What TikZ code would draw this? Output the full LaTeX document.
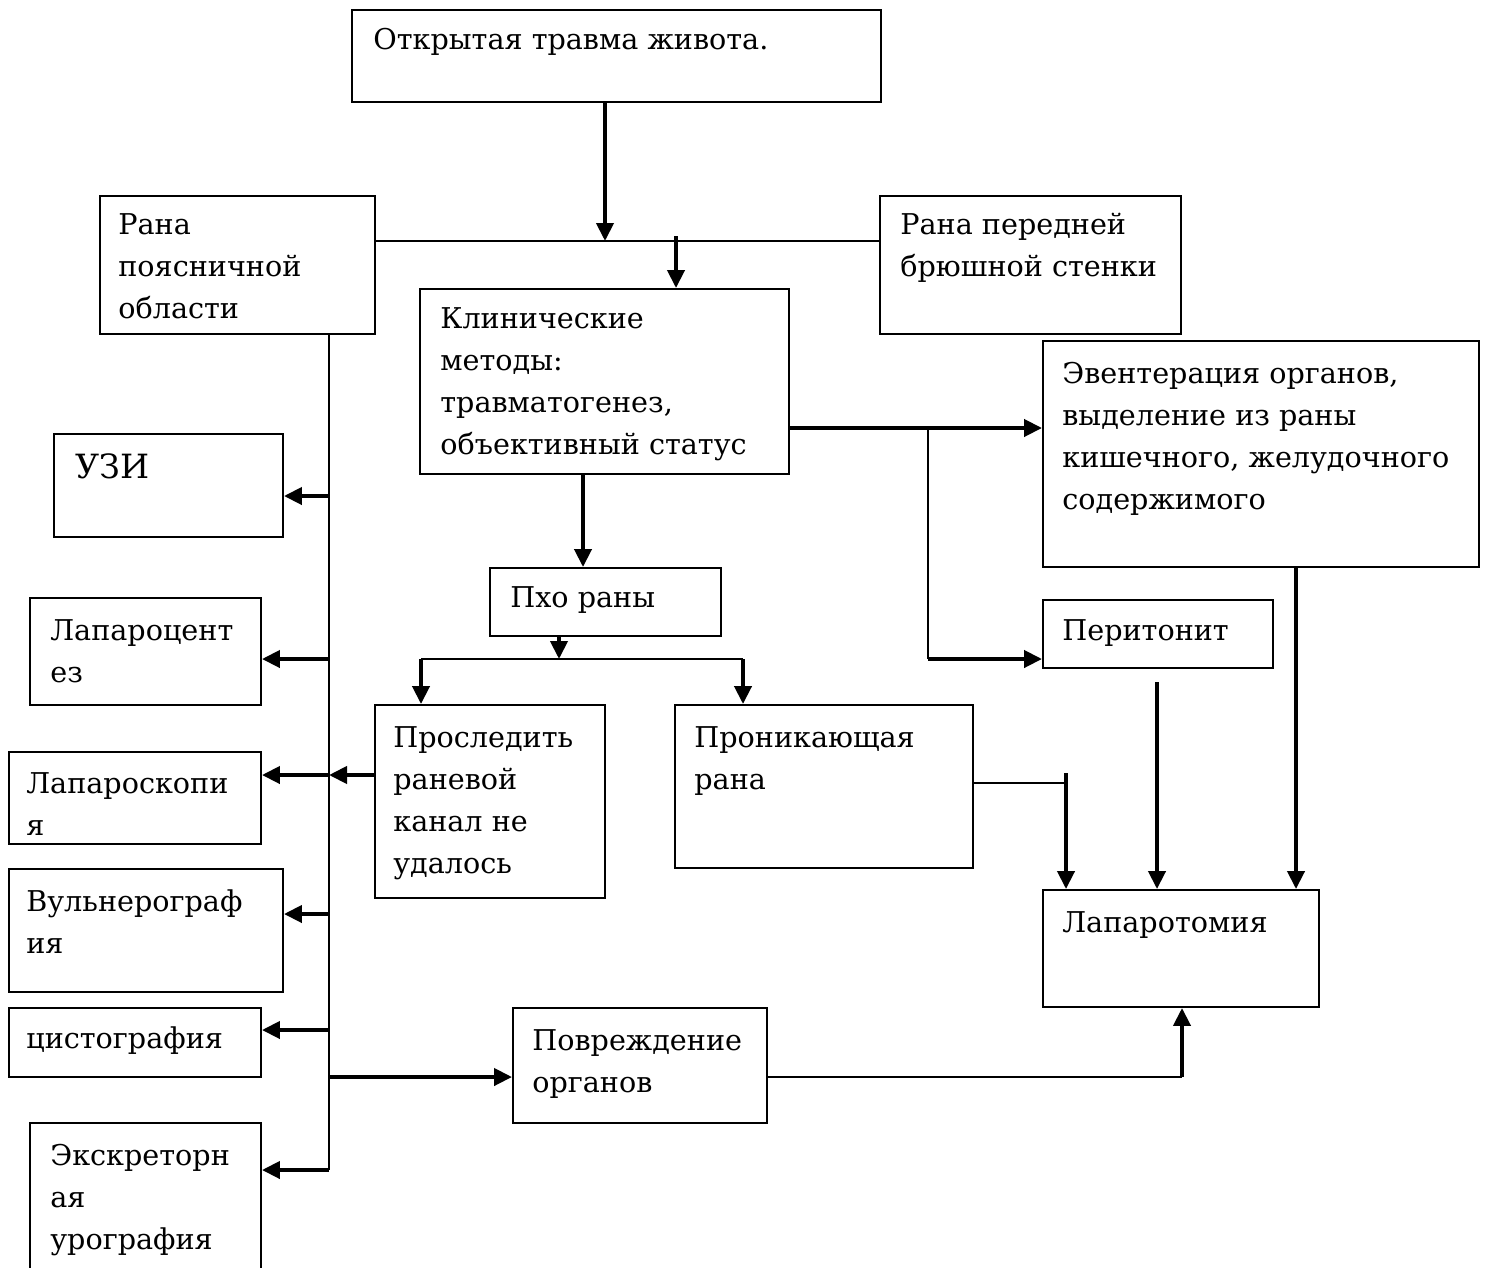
\documentclass[tikz,border=0pt]{standalone}
\usepackage{fontspec}
\setmainfont{DejaVu Serif}
\usetikzlibrary{arrows.meta,fit}

\tikzset{
  box/.style={draw, line width=1.1pt, inner sep=0pt},
  txt/.style={anchor=north west, inner sep=0pt, align=left, font=\fontsize{16.3}{23.9}\selectfont},
  link/.style={line width=1.1pt},
  arr/.style={line width=2.3pt, -{Triangle[length=0.36cm,width=0.34cm]}},
}

\begin{document}
\begin{tikzpicture}[x=0.02cm,y=-0.02cm]
\useasboundingbox (0,0) rectangle (1488,1268);

% boxes
\node[box, fit={(352,10) (881,102)}] (otkr) {};
\node[box, fit={(100,196) (375,334)}] (ranaL) {};
\node[box, fit={(880,196) (1181,334)}] (ranaP) {};
\node[box, fit={(420,289) (789,474)}] (klin) {};
\node[box, fit={(1043,341) (1479,567)}] (event) {};
\node[box, fit={(54,434) (283,537)}] (uzi) {};
\node[box, fit={(30,598) (261,705)}] (lapc) {};
\node[box, fit={(490,568) (721,636)}] (pho) {};
\node[box, fit={(1043,600) (1273,668)}] (perit) {};
\node[box, fit={(375,705) (605,898)}] (prosl) {};
\node[box, fit={(675,705) (973,868)}] (pron) {};
\node[box, fit={(9,752) (261,844)}] (lapsk) {};
\node[box, fit={(9,869) (283,992)}] (vuln) {};
\node[box, fit={(1043,890) (1319,1007)}] (lapt) {};
\node[box, fit={(9,1008) (261,1077)}] (cist) {};
\node[box, fit={(513,1008) (767,1123)}] (povr) {};
\node[box, fit={(30,1123) (261,1290)}] (ekskr) {};

% texts
\node[txt] (otkr-t) at (373,28) {Открытая травма живота.};
\node[txt] (ranaL-t) at (118,213) {Рана\\поясничной\\области};
\node[txt] (ranaP-t) at (900,213) {Рана передней\\брюшной стенки};
\node[txt] (klin-t) at (440,307) {Клинические\\методы:\\травматогенез,\\объективный статус};
\node[txt] (event-t) at (1062,362) {Эвентерация органов,\\выделение из раны\\кишечного, желудочного\\содержимого};
\node[txt, font=\fontsize{19}{26}\selectfont] (uzi-t) at (75,453) {УЗИ};
\node[txt] (lapc-t) at (50,619) {Лапароцент\\ез};
\node[txt] (pho-t) at (510,586) {Пхо раны};
\node[txt] (perit-t) at (1062,619) {Перитонит};
\node[txt] (prosl-t) at (393,726) {Проследить\\раневой\\канал не\\удалось};
\node[txt] (pron-t) at (694,726) {Проникающая\\рана};
\node[txt] (lapsk-t) at (26,772) {Лапароскопи\\я};
\node[txt] (vuln-t) at (26,889) {Вульнерограф\\ия};
\node[txt] (lapt-t) at (1062,911) {Лапаротомия};
\node[txt] (cist-t) at (26,1026) {цистография};
\node[txt] (povr-t) at (532,1029) {Повреждение\\органов};
\node[txt] (ekskr-t) at (50,1144) {Экскреторн\\ая\\урография};

% junction points
\coordinate (jtop) at (605,241);
\coordinate (jk) at (676,236);
\coordinate (t0) at (329,334);
\coordinate (t1) at (329,496);
\coordinate (t2) at (329,659);
\coordinate (t3) at (329,775);
\coordinate (t4) at (329,914);
\coordinate (t5) at (329,1030);
\coordinate (t6) at (329,1077);
\coordinate (t7) at (329,1170);
\coordinate (kp) at (583,474);
\coordinate (ps) at (559,659);
\coordinate (pl) at (421,659);
\coordinate (pr) at (743,659);
\coordinate (kb) at (928,428);
\coordinate (kb2) at (928,659);
\coordinate (pl1) at (1066,783);
\coordinate (pl0) at (1066,773);
\coordinate (pe) at (1157,682);
\coordinate (ev) at (1296,567);
\coordinate (pv) at (1182,1077);

% connectors
\draw[arr] (otkr.south -| jtop) -- (jtop);
\draw[link] (ranaL.east |- jtop) -- (ranaP.west |- jtop);
\draw[arr] (jk) -- (jk |- klin.north);

\draw[link] (t0) -- (t7);
\draw[arr] (t1) -- (t1 -| uzi.east);
\draw[arr] (t2) -- (t2 -| lapc.east);
\draw[arr] (prosl.west |- t3) -- (t3);
\draw[arr] (t3) -- (t3 -| lapsk.east);
\draw[arr] (t4) -- (t4 -| vuln.east);
\draw[arr] (t5) -- (t5 -| cist.east);
\draw[arr] (t6) -- (t6 -| povr.west);
\draw[arr] (t7) -- (t7 -| ekskr.east);

\draw[arr] (kp) -- (kp |- pho.north);
\draw[arr] (pho.south -| ps) -- (ps);
\draw[link] (pl) -- (pr);
\draw[arr] (pl) -- (pl |- prosl.north);
\draw[arr] (pr) -- (pr |- pron.north);

\draw[arr] (klin.east |- kb) -- (kb -| event.west);
\draw[link] (kb) -- (kb2);
\draw[arr] (kb2) -- (kb2 -| perit.west);

\draw[link] (pron.east |- pl1) -- (pl1);
\draw[arr] (pl0) -- (pl0 |- lapt.north);
\draw[arr] (pe) -- (pe |- lapt.north);
\draw[arr] (event.south -| ev) -- (ev |- lapt.north);
\draw[link] (povr.east |- pv) -- (pv);
\draw[arr] (pv) -- (pv |- lapt.south);

\end{tikzpicture}
\end{document}
